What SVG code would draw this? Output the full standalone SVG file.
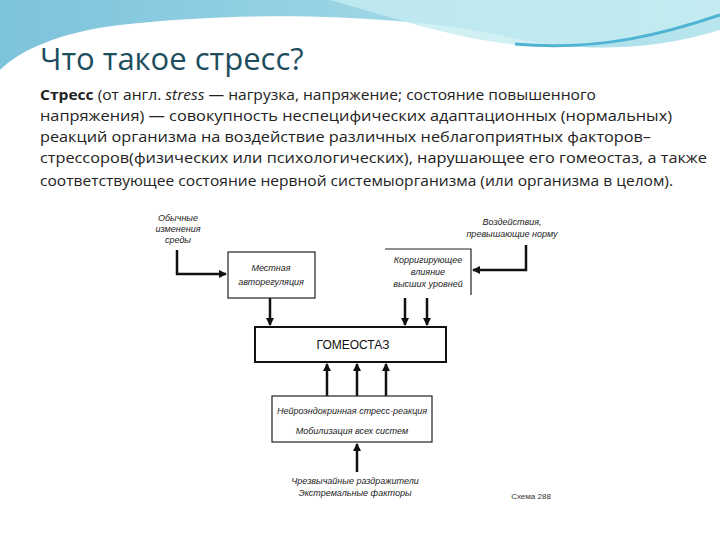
<svg xmlns="http://www.w3.org/2000/svg" width="720" height="540" viewBox="0 0 720 540">
<defs>
<linearGradient id="bg" x1="0" y1="0" x2="1" y2="0"><stop offset="0" stop-color="#7cc3dc"/><stop offset="1" stop-color="#b9e6ee"/></linearGradient>
<marker id="ah" markerWidth="8" markerHeight="8" refX="7" refY="4" orient="auto" markerUnits="userSpaceOnUse"><path d="M0,0 L8,4 L0,8 z" fill="#111"/></marker>
</defs>
<style>
.t{font-family:"Open Sans","DejaVu Sans",sans-serif;font-size:15px;fill:#222}
.d{font-family:"Liberation Sans",Arial,sans-serif;font-size:9px;font-style:italic;fill:#222;text-anchor:middle}
.box{fill:#fff;stroke:#222;stroke-width:1.2}
.c{stroke:#111;stroke-width:2.5;fill:none}
</style>
<rect width="720" height="540" fill="#fff"/>
<path d="M0,0 H720 V30 C640,55 560,50 500,35 C400,15 250,10 120,25 C60,32 20,50 0,70 Z" fill="url(#bg)"/>
<path d="M330,0 C400,20 460,40 520,45 C600,50 670,30 720,15 V0 Z" fill="#c5ecf1" opacity="0.8"/>
<path d="M515,44 C600,52 670,32 720,15" stroke="#4fb3d3" stroke-width="3" fill="none"/>
<text x="40" y="70" font-family="Open Sans, DejaVu Sans, sans-serif" font-size="31" fill="#1e4e5e">Что такое стресс?</text>
<text class="t" x="40" y="100" textLength="556" lengthAdjust="spacingAndGlyphs"><tspan font-weight="bold">Стресс</tspan> (от англ. <tspan font-style="italic">stress</tspan> — нагрузка, напряжение; состояние повышенного</text>
<text class="t" x="40" y="121" textLength="632" lengthAdjust="spacingAndGlyphs">напряжения) — совокупность неспецифических адаптационных (нормальных)</text>
<text class="t" x="40" y="142" textLength="611" lengthAdjust="spacingAndGlyphs">реакций организма на воздействие различных неблагоприятных факторов–</text>
<text class="t" x="40" y="163" textLength="667" lengthAdjust="spacingAndGlyphs">стрессоров(физических или психологических), нарушающее его гомеостаз, а также</text>
<text class="t" x="40" y="186" textLength="633" lengthAdjust="spacingAndGlyphs">соответствующее состояние нервной системыорганизма (или организма в целом).</text>
<g id="connectors">
<path class="c" d="M177,250 V274 H226" marker-end="url(#ah)"/>
<path class="c" d="M526,245 V270 H473" marker-end="url(#ah)"/>
<path class="c" d="M270,298 V325" marker-end="url(#ah)"/>
<path class="c" d="M405,298 V325" marker-end="url(#ah)"/>
<path class="c" d="M427,298 V325" marker-end="url(#ah)"/>
<path class="c" d="M327,396 V364" marker-end="url(#ah)"/>
<path class="c" d="M357,396 V364" marker-end="url(#ah)"/>
<path class="c" d="M386,396 V364" marker-end="url(#ah)"/>
<path class="c" d="M357,472 V444" marker-end="url(#ah)"/>
</g>
<g id="n-env"><text class="d" x="178" y="221">Обычные</text><text class="d" x="178" y="232">изменения</text><text class="d" x="178" y="243">среды</text></g>
<g id="n-excess"><text class="d" x="512" y="225">Воздействия,</text><text class="d" x="512" y="237">превышающие норму</text></g>
<g id="n-local"><rect class="box" x="228" y="252" width="87" height="46"/><text class="d" x="271" y="271">Местная</text><text class="d" x="271" y="285">авторегуляция</text></g>
<g id="n-higher"><path d="M385,249 H471 V295" stroke="#222" stroke-width="1.2" fill="none"/><text class="d" x="428" y="263">Корригирующее</text><text class="d" x="428" y="275">влияние</text><text class="d" x="428" y="287">высших уровней</text></g>
<g id="n-homeo"><rect x="255" y="327" width="191" height="35" fill="#fff" stroke="#111" stroke-width="2"/><text x="353" y="349" font-family="Liberation Sans, Arial, sans-serif" font-size="12" text-anchor="middle" fill="#111">ГОМЕОСТАЗ</text></g>
<g id="n-stress"><rect class="box" x="272" y="396" width="160" height="46"/><text class="d" x="352" y="414">Нейроэндокринная стресс-реакция</text><text class="d" x="352" y="434">Мобилизация всех систем</text></g>
<g id="n-extreme"><text class="d" x="355" y="484">Чрезвычайные раздражители</text><text class="d" x="355" y="496">Экстремальные факторы</text></g>
<text x="531" y="499" font-family="Liberation Sans, Arial, sans-serif" font-size="8" fill="#333" text-anchor="middle">Схема 288</text>
</svg>
